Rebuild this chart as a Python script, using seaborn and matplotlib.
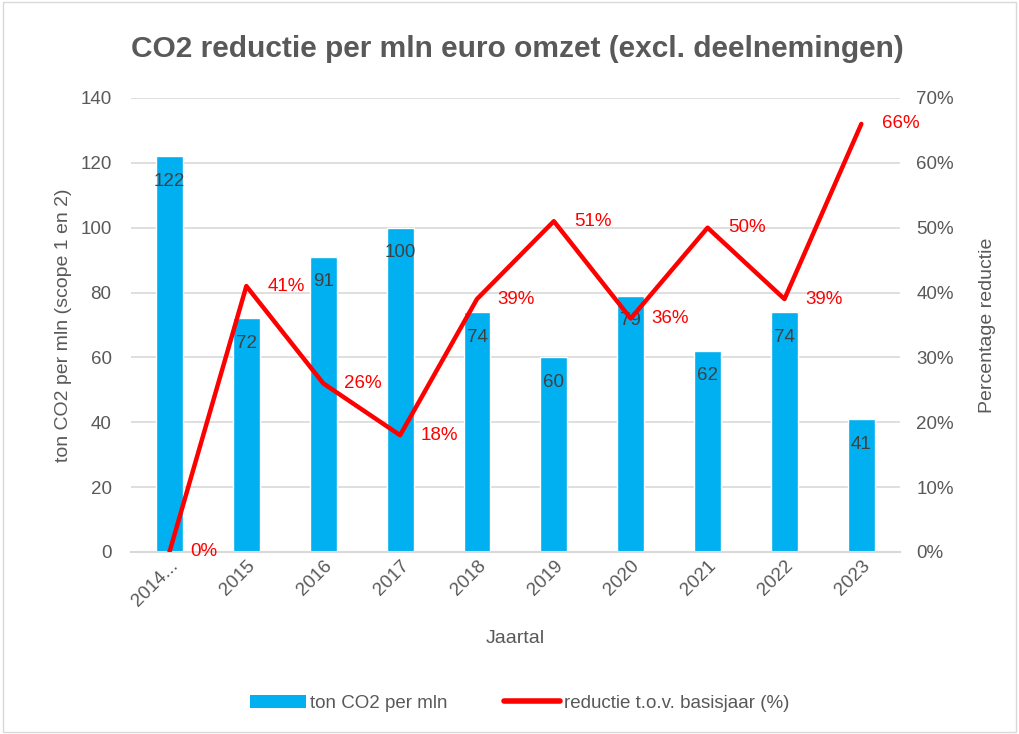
import matplotlib
matplotlib.use("Agg")
import matplotlib.pyplot as plt
import seaborn as sns
import pandas as pd
import numpy as np
from matplotlib.patches import Patch
from matplotlib.lines import Line2D
from matplotlib.ticker import FuncFormatter

# data
years = ["2014...", "2015", "2016", "2017", "2018", "2019", "2020", "2021", "2022", "2023"]
ton_co2 = [122, 72, 91, 100, 74, 60, 79, 62, 74, 41]
reductie = [0, 41, 26, 18, 39, 51, 36, 50, 39, 66]

df = pd.DataFrame({"Jaartal": years, "ton": ton_co2, "red": reductie})
df["pos"] = np.arange(len(df))

sns.set_theme(style="white")
plt.rcParams['font.family'] = ['Liberation Sans', 'DejaVu Sans']

GRAY = "#595959"
BLUE = "#00B0F0"
RED = "#FF0000"

fig = plt.figure(figsize=(10.19, 7.34), dpi=100)
ax = fig.add_axes([0.1286, 0.248, 0.7544, 0.6185])

sns.barplot(data=df, x="Jaartal", y="ton", color=BLUE, width=0.35,
            saturation=1, ax=ax, zorder=2)
ax.set_ylim(0, 140)
ax.set_yticks(range(0, 141, 20))
ax.yaxis.grid(True, color="#D9D9D9", linewidth=1.2, zorder=0)
ax.set_axisbelow(True)
for s in ["top", "right", "left"]:
    ax.spines[s].set_visible(False)
ax.spines["bottom"].set_color("#D9D9D9")
ax.spines["bottom"].set_linewidth(1.5)
ax.tick_params(axis="y", colors=GRAY, labelsize=13.5, length=0, pad=14)
ax.tick_params(axis="x", colors=GRAY, labelsize=13.5, length=0, pad=4)
plt.setp(ax.get_xticklabels(), rotation=45, ha="right", rotation_mode="anchor")
ax.set_xlim(-0.5, len(years) - 0.5)
ax.set_xlabel("Jaartal", color=GRAY, fontsize=14, labelpad=14)
ax.set_ylabel("ton CO2 per mln (scope 1 en 2)", color=GRAY, fontsize=14, labelpad=6)

for p, v in zip(df["pos"], df["ton"]):
    ax.annotate(str(v), (p, v), xytext=(0, -18), textcoords="offset points",
                ha="center", va="center", color="#404040", fontsize=13.5, zorder=5)

ax2 = ax.twinx()
sns.lineplot(data=df, x="pos", y="red", color=RED, linewidth=3.2, ax=ax2, zorder=3)
ax2.set_ylim(0, 70)
ax2.set_yticks(range(0, 71, 10))
ax2.yaxis.set_major_formatter(FuncFormatter(lambda v, _: f"{v:.0f}%"))
ax2.set_xlim(-0.5, len(years) - 0.5)
for s in ["top", "right", "left", "bottom"]:
    ax2.spines[s].set_visible(False)
ax2.tick_params(axis="y", colors=GRAY, labelsize=13.5, length=0, pad=12)
ax2.set_ylabel("Percentage reductie", color=GRAY, fontsize=14, labelpad=18)
ax2.set_xlabel("")

for p, v in zip(df["pos"], df["red"]):
    ax2.annotate(f"{v}%", (p, v), xytext=(15, 0), textcoords="offset points",
                 ha="left", va="center", color=RED, fontsize=13.5, zorder=6)

fig.suptitle("CO2 reductie per mln euro omzet (excl. deelnemingen)", x=0.508, y=0.952,
             color=GRAY, fontsize=21.5, fontweight="bold")

handles = [Patch(facecolor=BLUE, edgecolor="none", label="ton CO2 per mln"),
           Line2D([0], [0], color=RED, linewidth=4, label="reductie t.o.v. basisjaar (%)")]
leg = fig.legend(handles=handles, loc="center", bbox_to_anchor=(0.51, 0.042), ncol=2,
                 frameon=False, fontsize=13.5, handlelength=3, handletextpad=0.2,
                 columnspacing=3)
for t in leg.get_texts():
    t.set_color(GRAY)

# light border around the figure
fig.patches.append(plt.Rectangle((0.003, 0.003), 0.994, 0.994, transform=fig.transFigure,
                                 fill=False, edgecolor="#D9D9D9", linewidth=1))

fig.savefig("out.png", dpi=100)
